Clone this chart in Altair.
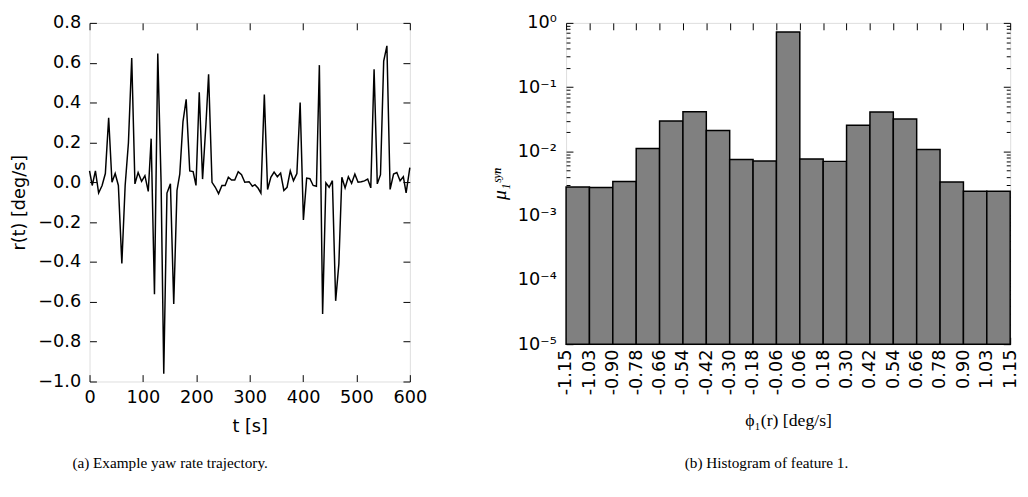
import json
import altair as alt
import pandas as pd

# ---------------- data ----------------
t_vals = [0, 5, 11, 17, 23.5, 29.6, 35.8, 42, 48, 54,
          60.5, 66.7, 72.8, 79, 85, 91, 97.5, 103.7, 110, 115.4,
          121.6, 127.8, 134, 139, 145, 151.5, 157.7, 163.8, 169, 175,
          181, 187.7, 194, 199.4, 205.5, 211.7, 218, 223, 229.4, 235.6,
          241.7, 248, 254, 260, 266, 272, 278.5, 284.7, 290.8,
          298.8, 305, 309.8, 315.9, 321, 327.4, 333.5, 339.6, 345.7, 351.8,
          357.9, 364, 370, 376, 382, 388.4, 394.5, 400.6, 406.7, 412.8,
          418.9, 425, 430.5, 436.6, 442.7, 448.8, 454.9, 461, 467, 472.6,
          478.7, 484.8, 490.9, 497, 503, 509, 515, 521, 526.8, 533,
          539, 545, 551, 557, 563, 569.5, 575.6, 581.7, 587.8, 593, 600]
r_vals = [0.057, -0.016, 0.057, -0.054, -0.016, 0.044, 0.324, 0.0, 0.044, -0.016,
          -0.408, -0.016, 0.197, 0.624, -0.008, 0.049, 0.005, 0.033, -0.046, 0.219,
          -0.562, 0.646, 0.0, -0.961, -0.054, -0.008, -0.611, -0.041, 0.041, 0.304,
          0.416, 0.057, 0.054, -0.016, 0.452, 0.016, 0.29, 0.542, 0.0, -0.025,
          -0.057, -0.016, -0.016, 0.025, 0.011, 0.011, 0.053, 0.038, 0.0,
          0.003, -0.02, -0.012, -0.03, -0.054, 0.44, -0.036, 0.025, 0.051, 0.028,
          0.046, -0.041, -0.025, 0.057, 0.008, 0.044, 0.4, -0.189, 0.021, 0.018,
          -0.016, -0.02, 0.588, -0.661, -0.003, -0.025, 0.008, -0.595, -0.41, 0.025,
          -0.028, 0.028, -0.005, 0.041, 0.0, 0.003, 0.007, 0.016, -0.028, 0.567,
          -0.008, 0.038, 0.608, 0.685, -0.036, 0.041, 0.049, 0.008, 0.028, -0.053, 0.074]

edge_labels = ["-1.15", "-1.03", "-0.90", "-0.78", "-0.66", "-0.54", "-0.42",
               "-0.30", "-0.18", "-0.06", "0.06", "0.18", "0.30", "0.42",
               "0.54", "0.66", "0.78", "0.90", "1.03", "1.15"]
mu_vals = [0.0028, 0.00274, 0.0034, 0.0111, 0.0298, 0.0414, 0.0212, 0.0075,
           0.0071, 0.72, 0.0076, 0.0070, 0.0255, 0.0409, 0.032, 0.0107,
           0.00334, 0.0024, 0.0024]

x_ticks_a = [0, 100, 200, 300, 400, 500, 600]
y_ticks_a = [-1.0, -0.8, -0.6, -0.4, -0.2, 0.0, 0.2, 0.4, 0.6, 0.8]
y_ticks_b = [1e-5, 1e-4, 1e-3, 1e-2, 1e-1, 1.0]
y_sup_b = ["⁰", "⁻¹", "⁻²", "⁻³", "⁻⁴", "⁻⁵"]
y_minor_b = [k * 10.0 ** e for e in range(-5, 0) for k in range(2, 10)]

line_df = pd.DataFrame({"t": t_vals, "r": r_vals})
hist_df = pd.DataFrame({
    "i0": list(range(len(mu_vals))),
    "i1": list(range(1, len(mu_vals) + 1)),
    "mu": mu_vals,
    "base": [1e-5] * len(mu_vals),
})

SANS = "DejaVu Sans"
SERIF = "Liberation Serif"
LBL = 18
MAJ = 7
MIN = 4


def tick_axis(orient, values, size=MAJ):
    return alt.Axis(orient=orient, values=values, labels=False, domain=False,
                    grid=False, ticks=True, tickSize=size, offset=-size,
                    tickColor="black", tickWidth=1, title=None)


# ---------------- panel (a) ----------------
xs_a = alt.Scale(domain=[0, 600], nice=False, zero=False)
ys_a = alt.Scale(domain=[-1.0, 0.8], nice=False, zero=False)

a_main = alt.Chart(line_df).mark_line(color="black", strokeWidth=1.5).encode(
    x=alt.X("t:Q", scale=xs_a, axis=alt.Axis(
        orient="bottom", values=x_ticks_a, format="d", domain=False, grid=False,
        tickSize=MAJ, offset=-MAJ, tickColor="black", labelPadding=7,
        labelFont=SANS, labelFontSize=LBL, labelColor="black",
        labelFlush=False, labelOverlap=False,
        title="t [s]", titleFont=SANS, titleFontSize=LBL, titleFontWeight="normal",
        titleColor="black", titlePadding=12)),
    y=alt.Y("r:Q", scale=ys_a, axis=alt.Axis(
        orient="left", values=y_ticks_a, format=".1f", domain=False, grid=False,
        tickSize=MAJ, offset=-MAJ, tickColor="black", labelPadding=9,
        labelFont=SANS, labelFontSize=LBL, labelColor="black",
        labelFlush=False, labelOverlap=False,
        title="r(t) [deg/s]", titleFont=SANS, titleFontSize=LBL,
        titleFontWeight="normal", titleColor="black", titlePadding=9)),
)
a_ticks = alt.Chart(line_df).mark_line(opacity=0).encode(
    x=alt.X("t:Q", scale=xs_a, axis=tick_axis("top", x_ticks_a)),
    y=alt.Y("r:Q", scale=ys_a, axis=tick_axis("right", y_ticks_a)),
)
panel_a = alt.layer(a_main, a_ticks).resolve_scale(
    x="independent", y="independent"
).properties(
    width=326, height=365,
    title=alt.TitleParams(text="(a) Example yaw rate trajectory.", orient="bottom",
                          font=SERIF, fontSize=15.5, fontWeight="normal",
                          color="black", anchor="middle", frame="group",
                          dx=-81, offset=21),
)

# ---------------- panel (b) ----------------
xs_b = alt.Scale(domain=[0, len(mu_vals)], nice=False, zero=False)
ys_b = alt.Scale(type="log", domain=[1e-5, 1.0], nice=False)

lab_expr_x = json.dumps(edge_labels, ensure_ascii=False) + "[round(datum.value)]"
lab_expr_y = "'10' + " + json.dumps(y_sup_b, ensure_ascii=False) + \
    "[round(-log(datum.value) / LN10)]"

b_main = alt.Chart(hist_df).mark_bar(fill="#808080", stroke="black",
                                     strokeWidth=1.5).encode(
    x=alt.X("i0:Q", scale=xs_b, axis=alt.Axis(
        orient="bottom", values=list(range(len(edge_labels))), labelExpr=lab_expr_x,
        labelAngle=270, domain=False, grid=False, tickSize=MAJ, offset=-MAJ,
        tickColor="black", labelPadding=5, labelFont=SANS, labelFontSize=LBL,
        labelColor="black", labelFlush=False, labelOverlap=False, labelBound=False,
        title="ϕ₁(r) [deg/s]", titleFont=SERIF, titleFontSize=18,
        titleFontWeight="normal", titleColor="black", titlePadding=17)),
    x2="i1:Q",
    y=alt.Y("mu:Q", scale=ys_b, axis=alt.Axis(
        orient="left", values=y_ticks_b, labelExpr=lab_expr_y, domain=False,
        grid=False, tickSize=MAJ, offset=-MAJ, tickColor="black", labelPadding=10,
        labelFont=SANS, labelFontSize=LBL, labelColor="black", labelFlush=False,
        labelOverlap=False,
        title="μ₁ˢʸⁿ", titleFont=SERIF, titleFontSize=20, titleFontStyle="italic",
        titleFontWeight="normal", titleColor="black", titlePadding=8)),
    y2="base:Q",
)
b_ticks = alt.Chart(hist_df).mark_bar(opacity=0).encode(
    x=alt.X("i0:Q", scale=xs_b, axis=tick_axis("top", list(range(len(edge_labels))))),
    x2="i1:Q",
    y=alt.Y("mu:Q", scale=ys_b, axis=tick_axis("right", y_ticks_b)),
    y2="base:Q",
)
b_minor_l = alt.Chart(hist_df).mark_bar(opacity=0).encode(
    x=alt.X("i0:Q", scale=xs_b, axis=None),
    x2="i1:Q",
    y=alt.Y("mu:Q", scale=ys_b, axis=tick_axis("left", y_minor_b, MIN)),
    y2="base:Q",
)
b_minor_r = alt.Chart(hist_df).mark_bar(opacity=0).encode(
    x=alt.X("i0:Q", scale=xs_b, axis=None),
    x2="i1:Q",
    y=alt.Y("mu:Q", scale=ys_b, axis=tick_axis("right", y_minor_b, MIN)),
    y2="base:Q",
)
panel_b = alt.layer(b_main, b_ticks, b_minor_l, b_minor_r).resolve_scale(
    x="independent", y="independent"
).properties(
    width=452, height=327,
    title=alt.TitleParams(text="(b) Histogram of feature 1.", orient="bottom",
                          font=SERIF, fontSize=15.5, fontWeight="normal",
                          color="black", anchor="middle", frame="group",
                          dx=-22, offset=27),
)

chart = alt.hconcat(panel_a, panel_b, spacing=62).properties(
    padding={"left": 2, "top": 1, "right": 0, "bottom": 0}
).configure_view(stroke="black", strokeWidth=1.5).configure(background="white")

chart.save("out.html", embed_options={"renderer": "svg", "actions": False})
